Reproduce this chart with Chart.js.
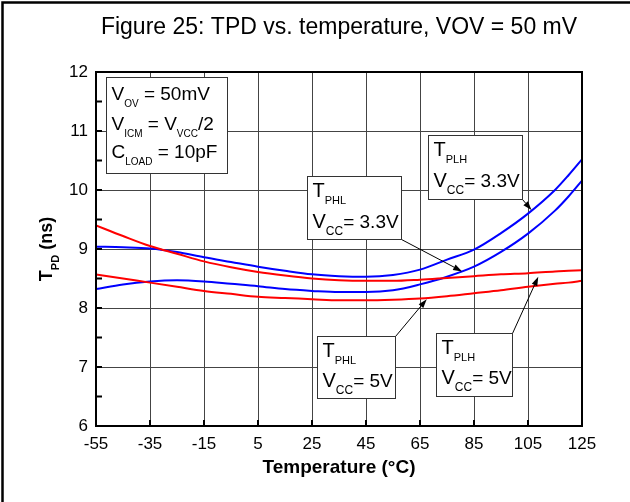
<!DOCTYPE html>
<html lang="en">
<head>
  <meta charset="UTF-8">
  <title>TPD vs. temperature</title>
  <script src="https://cdn.jsdelivr.net/npm/chart.js"></script>
  <style>
    body { margin: 0; padding: 0; background: #fff; }
    canvas { display: block; }
  </style>
</head>
<body>
  <canvas id="chart" width="630" height="502"></canvas>

  <script>
    // temperature points (deg C) and propagation delays (ns)
    const temps  = [-55, -45, -35, -25, -15, -5, 5, 15, 25, 35, 45, 55, 65, 75, 85, 95, 105, 115, 120, 125];
    const tplh33 = [9.04, 9.03, 9.01, 8.95, 8.86, 8.78, 8.70, 8.63, 8.57, 8.54, 8.53, 8.56, 8.65, 8.82, 8.99, 9.27, 9.60, 10.00, 10.25, 10.52];
    const tphl33 = [8.32, 8.40, 8.45, 8.47, 8.45, 8.41, 8.37, 8.32, 8.29, 8.27, 8.27, 8.30, 8.40, 8.53, 8.70, 8.95, 9.26, 9.65, 9.89, 10.16];
    const tplh5  = [9.40, 9.22, 9.05, 8.92, 8.79, 8.69, 8.61, 8.55, 8.50, 8.47, 8.46, 8.46, 8.48, 8.51, 8.54, 8.57, 8.59, 8.62, 8.63, 8.64];
    const tphl5  = [8.57, 8.50, 8.43, 8.36, 8.29, 8.24, 8.19, 8.17, 8.15, 8.13, 8.13, 8.14, 8.16, 8.20, 8.25, 8.30, 8.36, 8.41, 8.43, 8.46];

    const xTicks = [-55, -35, -15, 5, 25, 45, 65, 85, 105, 125];
    const yMin = 6, yMax = 12;

    const FONT = "'Liberation Sans', Arial, sans-serif";

    const pts = arr => temps.map((t, i) => ({ x: t, y: arr[i] }));

    // annotation boxes: top-left corner in data units, arrow tip in data units
    const notes = [
      { x: -51.3, y: 11.92, w: 121, h: 96, lines: [
          { dy: 22, runs: [['V', 19], ['OV', 10, 1], [' = 50mV', 19]] },
          { dy: 52, runs: [['V', 19], ['ICM', 10, 1], [' = V', 19], ['VCC', 10, 1], ['/2', 19]] },
          { dy: 80, runs: [['C', 19], ['LOAD', 10, 1], [' = 10pF', 19]] }
        ] },
      { x: 23.0, y: 10.23, w: 94, h: 63, tip: [80.6, 8.62], lines: [
          { dy: 20, runs: [['T', 20], ['PHL', 11, 1]] },
          { dy: 51, runs: [['V', 20], ['CC', 12, 1], ['= 3.3V', 19]] }
        ] },
      { x: 67.9, y: 10.94, w: 94, h: 64, tip: [106.3, 9.66], lines: [
          { dy: 20, runs: [['T', 20], ['PLH', 11, 1]] },
          { dy: 51, runs: [['V', 20], ['CC', 12, 1], ['= 3.3V', 19]] }
        ] },
      { x: 26.7, y: 7.53, w: 78, h: 62, tip: [67.5, 8.15], lines: [
          { dy: 20, runs: [['T', 20], ['PHL', 11, 1]] },
          { dy: 50, runs: [['V', 20], ['CC', 12, 1], ['= 5V', 19]] }
        ] },
      { x: 70.9, y: 7.58, w: 76, h: 63, tip: [108.8, 8.53], lines: [
          { dy: 20, runs: [['T', 20], ['PLH', 11, 1]] },
          { dy: 50, runs: [['V', 20], ['CC', 12, 1], ['= 5V', 19]] }
        ] }
    ];

    function drawRuns(ctx, x, y, runs, bold) {
      ctx.textBaseline = 'alphabetic';
      ctx.textAlign = 'left';
      runs.forEach(r => {
        ctx.font = (bold ? 'bold ' : '') + r[1] + 'px ' + FONT;
        const off = r[2] ? 7 : 0;
        ctx.fillText(r[0], x, y + off);
        x += ctx.measureText(r[0]).width;
      });
      return x;
    }

    function runsWidth(ctx, runs, bold) {
      let w = 0;
      runs.forEach(r => {
        ctx.font = (bold ? 'bold ' : '') + r[1] + 'px ' + FONT;
        w += ctx.measureText(r[0]).width;
      });
      return w;
    }

    function arrow(ctx, x1, y1, x2, y2) {
      const a = Math.atan2(y2 - y1, x2 - x1);
      const len = 9, half = 3;
      ctx.strokeStyle = '#000';
      ctx.lineWidth = 1;
      ctx.beginPath();
      ctx.moveTo(x1, y1);
      ctx.lineTo(x2 - len * Math.cos(a), y2 - len * Math.sin(a));
      ctx.stroke();
      ctx.fillStyle = '#000';
      ctx.beginPath();
      ctx.moveTo(x2, y2);
      ctx.lineTo(x2 - len * Math.cos(a) + half * Math.sin(a), y2 - len * Math.sin(a) - half * Math.cos(a));
      ctx.lineTo(x2 - len * Math.cos(a) - half * Math.sin(a), y2 - len * Math.sin(a) + half * Math.cos(a));
      ctx.closePath();
      ctx.fill();
    }

    const decor = {
      id: 'decor',
      beforeDraw(chart) {
        const ctx = chart.ctx;
        ctx.save();
        ctx.fillStyle = '#fff';
        ctx.fillRect(0, 0, chart.width, chart.height);
        // outer figure frame (top and left visible)
        ctx.strokeStyle = '#000';
        ctx.lineWidth = 2.5;
        ctx.strokeRect(2.5, 2.5, chart.width + 10, chart.height + 10);
        ctx.restore();
      },
      afterDatasetsDraw(chart) {
        const ctx = chart.ctx;
        const xs = chart.scales.x, ys = chart.scales.y;
        const a = chart.chartArea;
        ctx.save();

        // plot frame
        ctx.strokeStyle = '#000';
        ctx.lineWidth = 2;
        ctx.strokeRect(a.left, a.top, a.right - a.left, a.bottom - a.top);

        // inward minor ticks on y axis, major ticks on x axis
        ctx.lineWidth = 2;
        ctx.beginPath();
        for (let v = yMin; v <= yMax; v += 0.5) {
          const py = ys.getPixelForValue(v);
          ctx.moveTo(a.left, py);
          ctx.lineTo(a.left + 6, py);
        }
        xTicks.forEach(t => {
          const px = xs.getPixelForValue(t);
          ctx.moveTo(px, a.bottom);
          ctx.lineTo(px, a.bottom - 6);
        });
        ctx.stroke();

        // annotation boxes
        notes.forEach(n => {
          const bx = Math.round(xs.getPixelForValue(n.x)) + 0.5;
          const by = Math.round(ys.getPixelForValue(n.y)) + 0.5;
          if (n.tip) {
            arrow(ctx, bx + n.w, by + (n.y > 9 ? n.h : 0),
              xs.getPixelForValue(n.tip[0]), ys.getPixelForValue(n.tip[1]));
          }
          ctx.fillStyle = '#fff';
          ctx.fillRect(bx, by, n.w, n.h);
          ctx.strokeStyle = '#333';
          ctx.lineWidth = 1;
          ctx.strokeRect(bx, by, n.w, n.h);
          ctx.fillStyle = '#000';
          n.lines.forEach(l => drawRuns(ctx, bx + 5, by + l.dy, l.runs));
        });

        // title
        ctx.fillStyle = '#000';
        ctx.font = '23px ' + FONT;
        ctx.textAlign = 'center';
        ctx.textBaseline = 'alphabetic';
        ctx.fillText('Figure 25: TPD vs. temperature, VOV = 50 mV', (a.left + a.right) / 2, 34);

        // x axis title
        ctx.font = 'bold 19px ' + FONT;
        ctx.fillText('Temperature (\u00B0C)', (a.left + a.right) / 2, 473);

        // y axis title (rotated, with subscript)
        const yRuns = [['T', 18], ['PD', 11, 1], [' (ns)', 18]];
        const w = runsWidth(ctx, yRuns, true);
        ctx.translate(52, (a.top + a.bottom) / 2);
        ctx.rotate(-Math.PI / 2);
        drawRuns(ctx, -w / 2, 0, yRuns, true);

        ctx.restore();
      }
    };

    new Chart(document.getElementById('chart').getContext('2d'), {
      type: 'line',
      data: {
        datasets: [
          { label: 'TPLH VCC=5V', data: pts(tplh5), borderColor: '#ff0000' },
          { label: 'TPHL VCC=5V', data: pts(tphl5), borderColor: '#ff0000' },
          { label: 'TPLH VCC=3.3V', data: pts(tplh33), borderColor: '#0000ff' },
          { label: 'TPHL VCC=3.3V', data: pts(tphl33), borderColor: '#0000ff' }
        ]
      },
      options: {
        responsive: false,
        animation: false,
        events: [],
        layout: { padding: { left: 0, right: 48, top: 72, bottom: 0 } },
        elements: {
          line: { borderWidth: 2, cubicInterpolationMode: 'monotone', fill: false },
          point: { radius: 0 }
        },
        plugins: {
          legend: { display: false },
          title: { display: false },
          tooltip: { enabled: false }
        },
        scales: {
          x: {
            type: 'linear',
            min: -55,
            max: 125,
            afterBuildTicks: s => { s.ticks = xTicks.map(v => ({ value: v })); },
            afterFit: s => { s.height = 76; },
            grid: { color: '#444', lineWidth: 1, drawTicks: false },
            border: { display: false },
            ticks: { color: '#000', padding: 8, font: { family: FONT, size: 17 } }
          },
          y: {
            min: yMin,
            max: yMax,
            afterFit: s => { s.width = 96; },
            grid: { color: '#444', lineWidth: 1, drawTicks: false },
            border: { display: false },
            ticks: { stepSize: 1, color: '#000', padding: 8, font: { family: FONT, size: 17 } }
          }
        }
      },
      plugins: [decor]
    });
  </script>
</body>
</html>
